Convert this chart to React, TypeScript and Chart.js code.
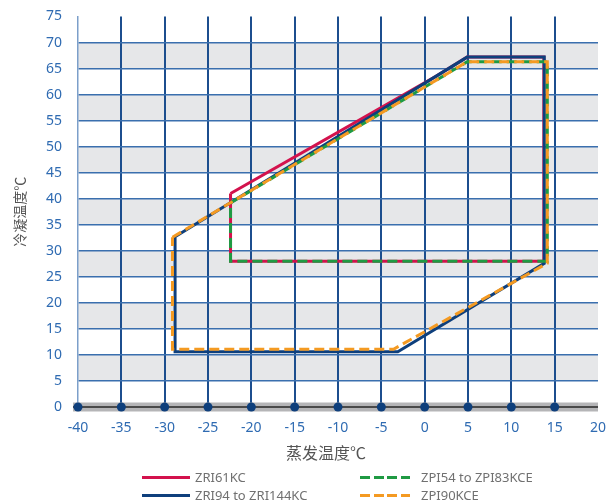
import React, { useEffect, useRef } from 'react';
import { Chart, registerables } from 'chart.js';

Chart.register(...registerables);

// ---- data ----
const xTickValues = [-40, -35, -30, -25, -20, -15, -10, -5, 0, 5, 10, 15, 20];
const yTickValues = [0, 5, 10, 15, 20, 25, 30, 35, 40, 45, 50, 55, 60, 65, 70, 75];
const axisMarkerX = [-40, -35, -30, -25, -20, -15, -10, -5, 0, 5, 10, 15];

const seriesNames = ['ZRI61KC', 'ZRI94 to ZRI144KC', 'ZPI54 to ZPI83KCE', 'ZPI90KCE'];
const xTitle = '蒸发温度℃';
const yTitle = '冷凝温度℃';

const zri61X = [-22.4, 1.3, 4.9, 13.75, 13.75, -22.4, -22.4];
const zri61Y = [41, 63.5, 67.2, 67.2, 28, 28, 41];

const zri94X = [-28.8, 4.9, 13.8, 13.8, -3.1, -28.8, -28.8];
const zri94Y = [32.7, 67.2, 67.2, 27.6, 10.6, 10.6, 32.7];

const zpi54X = [-22.4, 4.9, 14.15, 14.15, -22.4, -22.4];
const zpi54Y = [39.2, 66.3, 66.3, 28, 28, 39.2];

const zpi90X = [-29.1, 4.9, 14.15, 14.15, -3.6, -29.1, -29.1];
const zpi90Y = [32.6, 66.3, 66.3, 27.6, 11.1, 11.1, 32.6];

const COLORS = {
  red: '#d3124d',
  blue: '#0e3f7c',
  green: '#1f9a43',
  orange: '#f49a22',
};

const toPoints = (xs: number[], ys: number[]) => xs.map((x, i) => ({ x, y: ys[i] }));

const TICK_BLUE = '#2f6bb2';
const FONT = '"Noto Sans", "Open Sans", sans-serif';
const CJK = '"Noto Sans CJK SC", "Noto Sans", sans-serif';

const W = 610;
const CANVAS_H = 466;
const PLOT_LEFT = 78;
const PLOT_BOTTOM = 407;

const bandsPlugin = {
  id: 'bands',
  beforeDraw(chart: any) {
    const { ctx, chartArea, scales } = chart;
    const y = scales.y;
    ctx.save();
    ctx.fillStyle = '#e6e7e9';
    for (let i = 0; i < yTickValues.length - 1; i++) {
      if (i % 2 === 1) {
        const top = y.getPixelForValue(yTickValues[i + 1]);
        const bot = y.getPixelForValue(yTickValues[i]);
        ctx.fillRect(chartArea.left, top, chartArea.right - chartArea.left, bot - top);
      }
    }
    ctx.restore();
  },
};

const axisBarPlugin = {
  id: 'axisBar',
  beforeDatasetsDraw(chart: any) {
    const { ctx, chartArea, scales } = chart;
    const x = scales.x;
    const y = scales.y;
    const y0 = y.getPixelForValue(0);
    const x0 = x.getPixelForValue(xTickValues[0]) - 5;
    ctx.save();
    ctx.fillStyle = '#b5b5b7';
    ctx.fillRect(x0, y0 - 4.5, chartArea.right - x0, 9);
    ctx.strokeStyle = '#4a4a4a';
    ctx.lineWidth = 2;
    ctx.beginPath();
    ctx.moveTo(x0, y0);
    ctx.lineTo(chartArea.right, y0);
    ctx.stroke();
    ctx.restore();
  },
};

function lineDs(label: string, xs: number[], ys: number[], color: string, dashed: boolean, order: number) {
  return {
    label,
    data: toPoints(xs, ys),
    showLine: true,
    borderColor: color,
    backgroundColor: color,
    borderWidth: 3,
    borderDash: dashed ? [10, 5] : [],
    borderJoinStyle: 'miter' as const,
    borderCapStyle: 'butt' as const,
    pointRadius: 0,
    fill: false,
    tension: 0,
    order,
    clip: false as const,
  };
}

function LegendItem(props: { left: number; top: number; color: string; dashed: boolean; text: string; lineW: number; gap: number }) {
  const { left, top, color, dashed, text, lineW, gap } = props;
  const bg = dashed
    ? `repeating-linear-gradient(to right, ${color} 0px, ${color} 10px, transparent 10px, transparent 13.5px)`
    : color;
  return (
    <>
      <div style={{ position: 'absolute', left, top: top - 1.5, width: lineW, height: 3, background: bg }} />
      <div
        style={{
          position: 'absolute',
          left: left + lineW + gap,
          top: top - 10,
          height: 20,
          lineHeight: '20px',
          fontFamily: FONT,
          fontSize: 13,
          color: '#707070',
          whiteSpace: 'nowrap',
        }}
      >
        {text}
      </div>
    </>
  );
}

export default function App() {
  const canvasRef = useRef<HTMLCanvasElement | null>(null);

  useEffect(() => {
    if (!canvasRef.current) return;
    const chart = new Chart(canvasRef.current, {
      type: 'scatter',
      data: {
        datasets: [
          {
            label: 'markers',
            data: axisMarkerX.map((x) => ({ x, y: 0 })),
            showLine: false,
            pointRadius: 4.5,
            pointBackgroundColor: COLORS.blue,
            pointBorderWidth: 0,
            order: -1,
            clip: false,
          } as any,
          lineDs(seriesNames[3], zpi90X, zpi90Y, COLORS.orange, true, 0),
          lineDs(seriesNames[2], zpi54X, zpi54Y, COLORS.green, true, 1),
          lineDs(seriesNames[1], zri94X, zri94Y, COLORS.blue, false, 2),
          lineDs(seriesNames[0], zri61X, zri61Y, COLORS.red, false, 3),
        ],
      },
      options: {
        animation: false,
        responsive: true,
        maintainAspectRatio: false,
        events: [],
        layout: { padding: { top: 16.5, right: 12, left: 0, bottom: 0 } },
        plugins: {
          legend: { display: false },
          tooltip: { enabled: false },
        },
        scales: {
          x: {
            type: 'linear',
            min: -40,
            max: 20,
            afterBuildTicks: (scale: any) => {
              scale.ticks = xTickValues.map((v) => ({ value: v }));
            },
            afterFit: (scale: any) => {
              scale.height = CANVAS_H - PLOT_BOTTOM;
              scale.paddingLeft = 0;
              scale.paddingRight = 0;
            },
            ticks: {
              color: TICK_BLUE,
              font: { family: FONT, size: 14 },
              padding: 13,
              maxRotation: 0,
              callback: (v: any) => String(v),
            },
            grid: {
              color: (c: any) =>
                c.tick && (c.tick.value === -40 || c.tick.value === 20) ? 'rgba(0,0,0,0)' : '#1c4e8e',
              lineWidth: 2,
              drawTicks: false,
            },
            border: { display: false },
            title: { display: false },
          },
          y: {
            type: 'linear',
            min: 0,
            max: 75,
            afterBuildTicks: (scale: any) => {
              scale.ticks = yTickValues.map((v) => ({ value: v }));
            },
            afterFit: (scale: any) => {
              scale.width = PLOT_LEFT;
              scale.paddingTop = 0;
              scale.paddingBottom = 0;
            },
            ticks: {
              color: TICK_BLUE,
              font: { family: FONT, size: 14 },
              padding: 16,
              callback: (v: any) => String(v),
            },
            grid: {
              color: (c: any) =>
                c.tick && (c.tick.value === 0 || c.tick.value === 75) ? 'rgba(0,0,0,0)' : '#3a6fae',
              lineWidth: 1.5,
              drawTicks: false,
            },
            border: { display: true, color: '#7c9fca', width: 1.5 },
            title: {
              display: true,
              text: yTitle,
              color: '#555555',
              font: { family: CJK, size: 14 },
              padding: { top: 11.6, bottom: 0 },
            },
          },
        },
      } as any,
      plugins: [bandsPlugin, axisBarPlugin],
    });
    return () => chart.destroy();
  }, []);

  return (
    <div style={{ position: 'fixed', left: 0, top: 0, width: W, height: 502, background: '#fff', overflow: 'hidden' }}>
      <div style={{ position: 'absolute', left: 0, top: 0, width: W, height: CANVAS_H }}>
        <canvas ref={canvasRef} />
      </div>
      <div
        style={{
          position: 'absolute',
          left: 226,
          width: 200,
          top: 442,
          height: 20,
          lineHeight: '20px',
          textAlign: 'center',
          fontFamily: CJK,
          fontSize: 16,
          color: '#555555',
          whiteSpace: 'nowrap',
        }}
      >
        {xTitle}
      </div>
      <LegendItem left={142} top={477} color={COLORS.red} dashed={false} text={seriesNames[0]} lineW={48} gap={5} />
      <LegendItem left={142} top={495} color={COLORS.blue} dashed={false} text={seriesNames[1]} lineW={48} gap={5} />
      <LegendItem left={360} top={477} color={COLORS.green} dashed={true} text={seriesNames[2]} lineW={50} gap={11} />
      <LegendItem left={360} top={495} color={COLORS.orange} dashed={true} text={seriesNames[3]} lineW={50} gap={11} />
    </div>
  );
}
